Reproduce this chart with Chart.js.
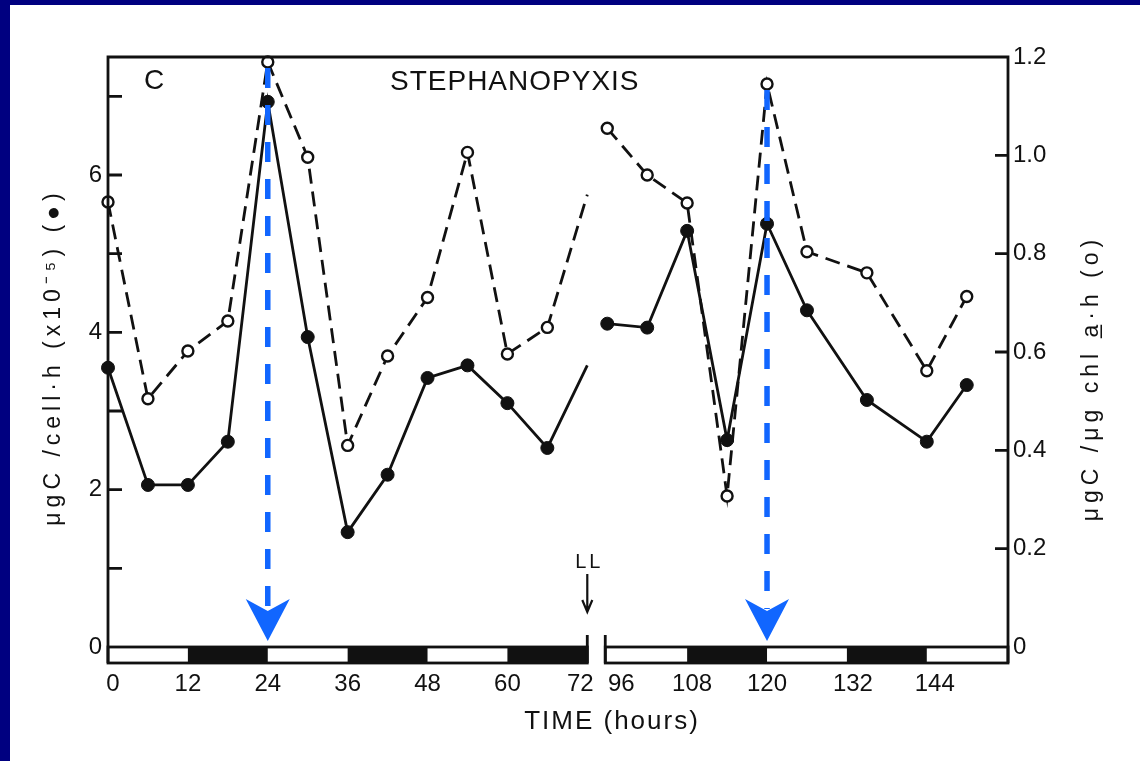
<!DOCTYPE html>
<html>
<head>
<meta charset="utf-8">
<title>Stephanopyxis</title>
<script src="https://cdn.jsdelivr.net/npm/chart.js@4.4.1/dist/chart.umd.min.js"></script>
<style>
  html, body { margin: 0; padding: 0; background: #000080; }
  canvas { display: block; }
</style>
</head>
<body>
<canvas id="chart" width="1140" height="761"></canvas>
<script>
// sampling times (hours) before and after the gap in the record
const hoursA = [0, 6, 12, 18, 24, 30, 36, 42, 48, 54, 60, 66, 72];
const hoursB = [96, 102, 108, 114, 120, 126, 135, 144, 150];

// ugC / cell·h (x10^-5), filled circles
const cellRateA = [3.55, 2.06, 2.06, 2.61, 6.93, 3.94, 1.46, 2.19, 3.42, 3.58, 3.10, 2.53, 3.58];
const cellRateB = [4.11, 4.06, 5.29, 2.63, 5.38, 4.28, 3.14, 2.61, 3.33];

// ugC / ug chl a·h, open circles
const chlRateA = [0.905, 0.505, 0.602, 0.663, 1.19, 0.996, 0.41, 0.592, 0.711, 1.006, 0.596, 0.65, 0.92];
const chlRateB = [1.055, 0.96, 0.903, 0.307, 1.145, 0.804, 0.761, 0.562, 0.713];

// time axis ticks and the light/dark bar underneath
const timeTicks = [0, 12, 24, 36, 48, 60, 72, 96, 108, 120, 132, 144];
const barSegments = [[0, 72], [95.7, 156.2]];
const darkPeriods = [[12, 24], [36, 48], [60, 72], [108, 120], [132, 144]];
const cellTicks = [0, 1, 2, 3, 4, 5, 6, 7];
const chlTicks = [0, 0.2, 0.4, 0.6, 0.8, 1.0, 1.2];

const peakHours = [24, 120];
const switchHour = 72; // LL from here on

const INK = '#111111';
const BLUE = '#1166ff';
const FONT = "'Liberation Sans', Arial, sans-serif";

// the hours between 72 and 96 are squeezed out of the time axis
const GAP_SHIFT = 21;
const toAxis = h => (h > 84 ? h - GAP_SHIFT : h);

function series(hA, vA, hB, vB) {
  const pts = hA.map((h, i) => ({ x: toAxis(h), y: vA[i] }));
  pts.push({ x: toAxis(84), y: null });
  return pts.concat(hB.map((h, i) => ({ x: toAxis(h), y: vB[i] })));
}

// no marker where the first run is cut off at 72 h
function radii(r) {
  return hoursA.map(h => (h === switchHour ? 0 : r)).concat([0], hoursB.map(() => r));
}

const labelNudge = { 0: 5, 72: -7, 96: 14, 108: 5, 132: 6, 144: 8 };

const figurePlugin = {
  id: 'figure',
  beforeDraw(chart) {
    const ctx = chart.ctx;
    ctx.save();
    ctx.fillStyle = '#000080';
    ctx.fillRect(0, 0, chart.width, chart.height);
    ctx.fillStyle = '#ffffff';
    ctx.fillRect(10, 5, chart.width - 10, chart.height - 5);
    ctx.restore();
  },
  afterDraw(chart) {
    const ctx = chart.ctx;
    const { left, right, top, bottom } = chart.chartArea;
    const xs = chart.scales.x;
    const yl = chart.scales.yCell;
    const yr = chart.scales.yChl;
    const barH = 16;
    const px = h => xs.getPixelForValue(toAxis(h));

    ctx.save();
    ctx.strokeStyle = INK;
    ctx.fillStyle = INK;
    ctx.lineWidth = 2.8;

    // frame: left axis, top, right axis
    ctx.beginPath();
    ctx.moveTo(left, bottom + barH);
    ctx.lineTo(left, top);
    ctx.lineTo(right, top);
    ctx.lineTo(right, bottom + barH);
    ctx.stroke();

    // inward ticks
    ctx.beginPath();
    cellTicks.forEach(v => {
      if (v === 0) return;
      const y = yl.getPixelForValue(v);
      ctx.moveTo(left, y);
      ctx.lineTo(left + 14, y);
    });
    chlTicks.forEach(v => {
      if (v === 0 || v === 1.2) return;
      const y = yr.getPixelForValue(v);
      ctx.moveTo(right, y);
      ctx.lineTo(right - 13, y);
    });
    ctx.stroke();

    // light / dark bar
    barSegments.forEach(([h0, h1]) => {
      const x0 = px(h0), x1 = Math.min(px(h1), right);
      ctx.strokeRect(x0, bottom, x1 - x0, barH);
    });
    darkPeriods.forEach(([h0, h1]) => {
      const x0 = px(h0), x1 = px(h1);
      ctx.fillRect(x0, bottom, x1 - x0, barH);
    });
    // break marks either side of the gap
    ctx.beginPath();
    [barSegments[0][1], barSegments[1][0]].forEach(h => {
      const x = px(h);
      ctx.moveTo(x, bottom - 12);
      ctx.lineTo(x, bottom + barH);
    });
    ctx.stroke();

    // time tick labels
    ctx.font = '24px ' + FONT;
    ctx.textAlign = 'center';
    ctx.textBaseline = 'middle';
    timeTicks.forEach(h => {
      ctx.fillText(String(h), px(h) + (labelNudge[h] || 0), bottom + 37);
    });

    ctx.font = '26px ' + FONT;
    ctx.letterSpacing = '2px';
    ctx.fillText('TIME (hours)', 612, 722);

    // LL marker
    const xl = px(switchHour);
    ctx.font = '20px ' + FONT;
    ctx.letterSpacing = '3px';
    ctx.fillText('LL', xl + 2, 562);
    ctx.lineWidth = 2.2;
    ctx.beginPath();
    ctx.moveTo(xl, 574);
    ctx.lineTo(xl, 611);
    ctx.moveTo(xl - 5, 600);
    ctx.lineTo(xl, 612);
    ctx.lineTo(xl + 5, 600);
    ctx.stroke();

    // panel letter and species name
    ctx.textAlign = 'left';
    ctx.font = '28px ' + FONT;
    ctx.letterSpacing = '0px';
    ctx.fillText('C', 144, 81);
    ctx.letterSpacing = '1px';
    ctx.fillText('STEPHANOPYXIS', 390, 82);

    // axis titles, both read bottom to top
    ctx.textAlign = 'center';
    ctx.font = '23px ' + FONT;
    ctx.letterSpacing = '5px';
    ctx.save();
    ctx.translate(54, 357);
    ctx.rotate(-Math.PI / 2);
    ctx.fillText('\u03bcgC /cell\u00b7h (x10\u207b\u2075) (\u25cf)', 0, 0);
    ctx.restore();
    ctx.save();
    ctx.translate(1092, 378);
    ctx.rotate(-Math.PI / 2);
    ctx.fillText('\u03bcgC /\u03bcg chl a\u0332\u00b7h (o)', 0, 0);
    ctx.restore();
    ctx.letterSpacing = '0px';

    // blue arrows dropping from the two peaks
    peakHours.forEach(h => {
      const v = h < switchHour ? chlRateA[hoursA.indexOf(h)] : chlRateB[hoursB.indexOf(h)];
      const x = px(h);
      const y0 = yr.getPixelForValue(v) + 6;
      const tip = bottom - 6;
      ctx.strokeStyle = BLUE;
      ctx.fillStyle = BLUE;
      ctx.lineWidth = 5.5;
      ctx.setLineDash([20, 17]);
      ctx.beginPath();
      ctx.moveTo(x, y0);
      ctx.lineTo(x, tip - 32);
      ctx.stroke();
      ctx.setLineDash([]);
      ctx.beginPath();
      ctx.moveTo(x, tip);
      ctx.lineTo(x - 22, tip - 42);
      ctx.lineTo(x, tip - 30);
      ctx.lineTo(x + 22, tip - 42);
      ctx.closePath();
      ctx.fill();
    });

    ctx.restore();
  }
};

new Chart(document.getElementById('chart'), {
  type: 'line',
  data: {
    datasets: [
      {
        label: 'cell',
        data: series(hoursA, cellRateA, hoursB, cellRateB),
        yAxisID: 'yCell',
        borderColor: INK,
        borderWidth: 2.8,
        pointRadius: radii(6.5),
        pointBackgroundColor: INK,
        pointBorderColor: INK,
        pointBorderWidth: 1,
        spanGaps: false,
        tension: 0,
        clip: false,
        order: 1
      },
      {
        label: 'chl',
        data: series(hoursA, chlRateA, hoursB, chlRateB),
        yAxisID: 'yChl',
        borderColor: INK,
        borderWidth: 2.8,
        borderDash: [15, 8],
        pointRadius: radii(5.5),
        pointBackgroundColor: '#ffffff',
        pointBorderColor: INK,
        pointBorderWidth: 2.4,
        spanGaps: false,
        tension: 0,
        clip: false,
        order: 2
      }
    ]
  },
  options: {
    responsive: false,
    animation: false,
    layout: { padding: { top: 57 } },
    plugins: {
      legend: { display: false },
      tooltip: { enabled: false }
    },
    scales: {
      x: {
        type: 'linear',
        min: 0,
        max: toAxis(156.2),
        grid: { display: false, drawTicks: false },
        border: { display: false },
        ticks: { display: false },
        afterFit: s => { s.height = 114; }
      },
      yCell: {
        type: 'linear',
        position: 'left',
        min: 0,
        max: 7.5,
        grid: { display: false, drawTicks: false },
        border: { display: false },
        ticks: {
          stepSize: 1,
          padding: 6,
          color: INK,
          font: { family: FONT, size: 24 },
          callback: v => (v % 2 === 0 ? String(v) : '')
        },
        afterFit: s => { s.width = 108; }
      },
      yChl: {
        type: 'linear',
        position: 'right',
        min: 0,
        max: 1.2,
        grid: { display: false, drawTicks: false },
        border: { display: false },
        ticks: {
          stepSize: 0.2,
          padding: 5,
          color: INK,
          font: { family: FONT, size: 24 },
          callback: v => (v === 0 ? '0' : v.toFixed(1))
        },
        afterFit: s => { s.width = 132; }
      }
    }
  },
  plugins: [figurePlugin]
});
</script>
</body>
</html>
